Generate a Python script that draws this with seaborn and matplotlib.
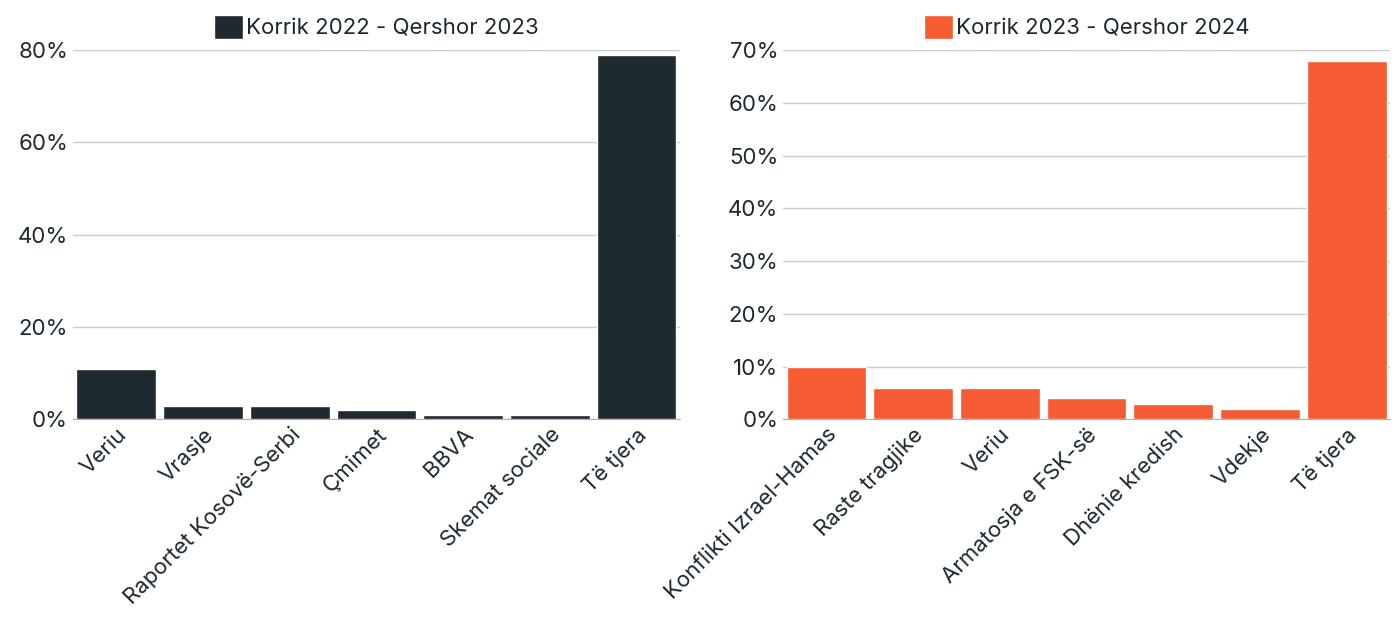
import pandas as pd
import seaborn as sns
import matplotlib.pyplot as plt
from matplotlib.patches import Patch
from matplotlib.ticker import PercentFormatter

sns.set_style("white")
plt.rcParams['font.family'] = ['Inter', 'DejaVu Sans']

left_labels = ['Veriu', 'Vrasje', 'Raportet Kosovë-Serbi', 'Çmimet', 'BBVA', 'Skemat sociale', 'Të tjera']
left_values = [11, 3, 3, 2, 1, 1, 79]
right_labels = ['Konflikti Izrael-Hamas', 'Raste tragjike', 'Veriu', 'Armatosja e FSK-së', 'Dhënie kredish', 'Vdekje', 'Të tjera']
right_values = [10, 6, 6, 4, 3, 2, 68]

dark = '#1e2930'
orange = '#f55c33'
text_col = '#1c2830'

fig, axes = plt.subplots(1, 2, figsize=(13.95, 6.26), dpi=100)
plt.subplots_adjust(left=0.0523, right=0.9964, top=0.92, bottom=0.33, wspace=0.17)

panels = [
    (axes[0], left_labels, left_values, dark, 'Korrik 2022 - Qershor 2023', 80, 20),
    (axes[1], right_labels, right_values, orange, 'Korrik 2023 - Qershor 2024', 70, 10),
]

for ax, labels, values, color, name, top, step in panels:
    df = pd.DataFrame({'topic': labels, 'share': values})
    sns.barplot(data=df, x='topic', y='share', color=color, width=0.92,
                saturation=1, ax=ax, zorder=3)
    ax.set_ylim(0, top)
    ax.set_yticks(range(0, top + 1, step))
    ax.yaxis.set_major_formatter(PercentFormatter(decimals=0))
    ax.grid(axis='y', color='#cccccc', linewidth=1, zorder=0)
    ax.set_xlim(-0.5, len(labels) - 0.5)
    for s in ['top', 'right', 'left']:
        ax.spines[s].set_visible(False)
    ax.spines['bottom'].set_color('#b0b0b0')
    ax.set_xlabel('')
    ax.set_ylabel('')
    ax.tick_params(axis='both', length=0, labelsize=16, labelcolor=text_col)
    plt.setp(ax.get_xticklabels(), rotation=45, ha='right', rotation_mode='anchor')
    ax.legend(handles=[Patch(facecolor=color, label=name)], loc='lower center',
              bbox_to_anchor=(0.5, 1.0), frameon=False, fontsize=16,
              handlelength=1.3, handleheight=1.3, handletextpad=0.15,
              labelcolor=text_col, borderaxespad=0.1)

plt.savefig('out.png', dpi=100)
